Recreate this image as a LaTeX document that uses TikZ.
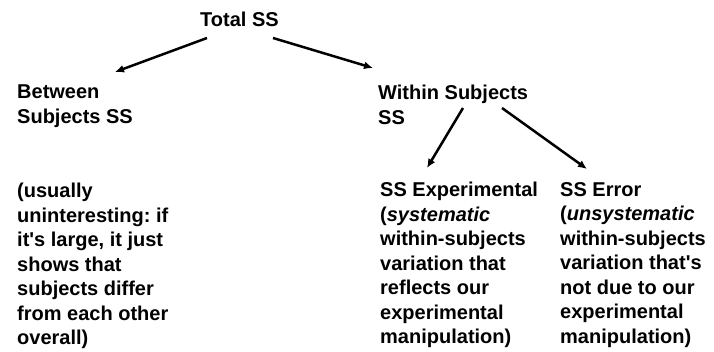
\documentclass[tikz,border=0pt]{standalone}
\usepackage{fontspec}
\setmainfont{Liberation Sans}
\usetikzlibrary{arrows.meta}
\frenchspacing
\tikzset{
  lbl/.style={anchor=north west,inner sep=0pt,align=left,
    font=\bfseries\fontsize{20}{24.5}\selectfont},
  arr/.style={line width=2.5pt,-{Latex[length=9pt,width=8pt]}}
}
\newcommand{\apos}{\textquotesingle}
\begin{document}
\begin{tikzpicture}[x=1pt,y=-1pt]
      \useasboundingbox (0,0) rectangle (714,352);
      \node[lbl] (total) at (200,12) {Total SS};
      \node[lbl] (between) at (17,85) {Between\\Subjects SS};
      \node[lbl] (within) at (378,85) {Within Subjects\\SS};
      \node[lbl] (usually) at (17,183) {(usually\\uninteresting: if\\it\apos s large, it just\\shows that\\subjects differ\\from each other\\overall)};
      \node[lbl] (expt) at (380,182) {SS Experimental\\(\textit{systematic}\\within-subjects\\variation that\\reflects our\\experimental\\manipulation)};
      \node[lbl] (err) at (560,182) {SS Error\\(\textit{unsystematic}\\within-subjects\\variation that\apos s\\not due to our\\experimental\\manipulation)};
      \begin{scope}[arr]
        \draw ([shift={(7,26)}]total.north west) to ([shift={(98,-13)}]between.north west);
        \draw ([shift={(73,26)}]total.north west) to ([shift={(-5,-17)}]within.north west);
        \draw ([shift={(85,23)}]within.north west) to ([shift={(47,-14)}]expt.north west);
        \draw ([shift={(124,23)}]within.north west) to ([shift={(27,-13)}]err.north west);
      \end{scope}
    \end{tikzpicture}
\end{document}
